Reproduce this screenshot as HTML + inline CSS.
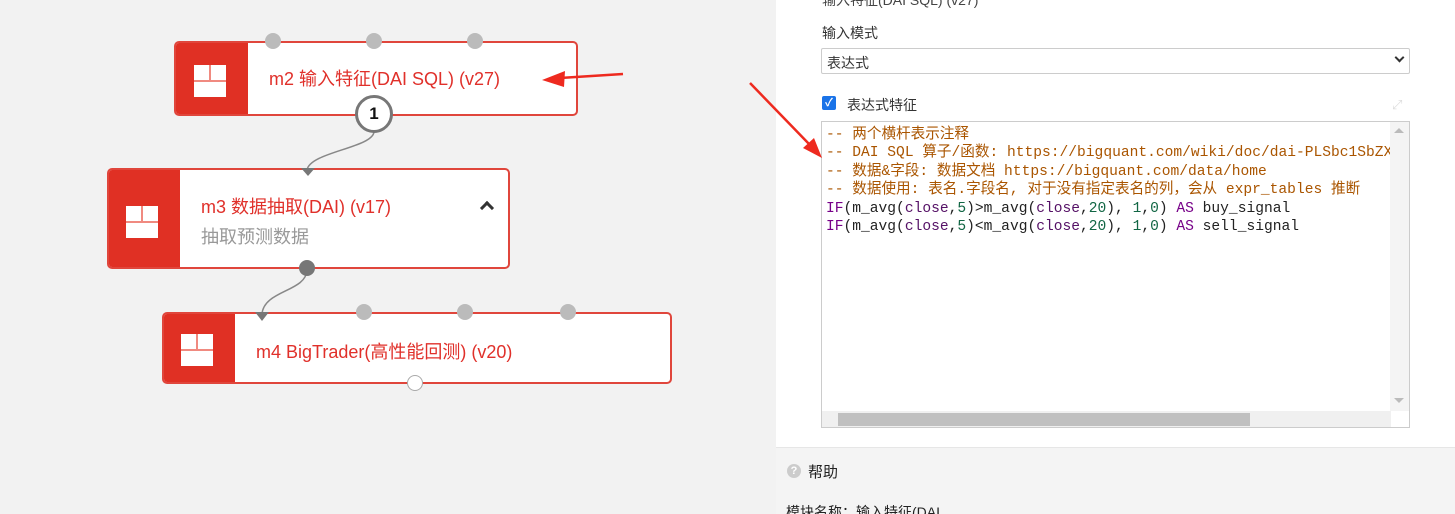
<!DOCTYPE html>
<html><head><meta charset="utf-8"><style>
*{margin:0;padding:0;box-sizing:border-box}
html,body{width:1455px;height:514px;overflow:hidden}
body{background:#f2f2f2;font-family:"Liberation Sans","Noto Sans CJK SC",sans-serif;position:relative}
.node{position:absolute;background:#fff;border:2px solid #e0463c;border-radius:5px;overflow:visible}
.node .side{position:absolute;left:0;top:0;bottom:0;background:#e03024;border-radius:3px 0 0 3px}
.icon{position:absolute;width:32px;height:32px;background:#fff}
.icon:before{content:"";position:absolute;left:0;right:0;top:15px;height:2px;background:#f08a80}
.icon:after{content:"";position:absolute;left:15px;width:2px;top:0;height:15px;background:#f08a80}
.title{position:absolute;color:#e0302a;font-size:18px;white-space:nowrap}
.port{position:absolute;width:16px;height:16px;border-radius:50%;background:#bbb}
.panel{position:absolute;left:776px;top:0;width:679px;height:447px;background:#fff}
.help{position:absolute;left:776px;top:447px;width:679px;height:67px;background:#f4f4f4;border-top:1px solid #e6e6e6}
.code{position:absolute;left:821px;top:121px;width:589px;height:307px;border:1px solid #ccc;background:#fff;overflow:hidden}
.code pre{font-family:"Liberation Mono","Noto Sans CJK SC",monospace;font-size:14.6px;line-height:18.4px;padding:4px 0 0 4px;white-space:pre;color:#222}
.c{color:#aa5500}.k{color:#770088}.n{color:#116644}.v{color:#551166}
</style></head><body>

<svg width="776" height="514" style="position:absolute;left:0;top:0">
<path d="M374 132 C372 148 310 152 307 170" stroke="#888" stroke-width="1.5" fill="none"/>
<path d="M307 270 C306 292 264 290 262 314" stroke="#888" stroke-width="1.5" fill="none"/>
</svg>

<div class="node" style="left:174px;top:41px;width:404px;height:75px">
 <div class="side" style="width:72px"></div>
 <div class="icon" style="left:18px;top:22px"></div>
 <div class="title" style="left:93px;top:22px">m2 输入特征(DAI SQL) (v27)</div>
</div>
<div class="port" style="left:265px;top:33px"></div>
<div class="port" style="left:366px;top:33px"></div>
<div class="port" style="left:467px;top:33px"></div>
<div style="position:absolute;left:355px;top:95px;width:38px;height:38px;border-radius:50%;background:#fff;border:3px solid #777;text-align:center;line-height:32px;font-weight:bold;font-size:17px;color:#111">1</div>

<div class="node" style="left:107px;top:168px;width:403px;height:101px">
 <div class="side" style="width:71px"></div>
 <div class="icon" style="left:17px;top:36px"></div>
 <div class="title" style="left:92px;top:23px">m3 数据抽取(DAI) (v17)</div>
 <div style="position:absolute;left:92px;top:53px;font-size:18px;color:#999">抽取预测数据</div>
 <div style="position:absolute;left:373px;top:33px;width:10px;height:10px;border-left:3px solid #333;border-top:3px solid #333;transform:rotate(45deg)"></div>
</div>
<div style="position:absolute;left:301px;top:168px;width:0;height:0;border-left:7px solid transparent;border-right:7px solid transparent;border-top:8px solid #777"></div>
<div class="port" style="left:299px;top:260px;background:#777"></div>

<div class="node" style="left:162px;top:312px;width:510px;height:72px">
 <div class="side" style="width:71px"></div>
 <div class="icon" style="left:17px;top:20px"></div>
 <div class="title" style="left:92px;top:24px">m4 BigTrader(高性能回测) (v20)</div>
</div>
<div style="position:absolute;left:255px;top:312px;width:0;height:0;border-left:7px solid transparent;border-right:7px solid transparent;border-top:9px solid #777"></div>
<div class="port" style="left:356px;top:304px"></div>
<div class="port" style="left:457px;top:304px"></div>
<div class="port" style="left:560px;top:304px"></div>
<div class="port" style="left:407px;top:375px;background:#fff;border:1.5px solid #aaa"></div>

<div class="panel">
 <div style="position:absolute;left:46px;top:-10px;font-size:14px;color:#444">输入特征(DAI SQL) (v27)</div>
 <div style="position:absolute;left:46px;top:23px;font-size:14px;color:#333">输入模式</div>
 <div style="position:absolute;left:45px;top:48px;width:589px;height:26px;border:1px solid #ccc;border-radius:2px;font-size:14px;color:#333;padding:4px 5px">表达式
  <span style="position:absolute;right:6px;top:5px;width:7px;height:7px;border-right:2px solid #333;border-bottom:2px solid #333;transform:rotate(45deg)"></span></div>
 <div style="position:absolute;left:46px;top:96px;width:14px;height:14px;border-radius:2px;background:#1a73e8;color:#fff;font-size:11px;line-height:14px;text-align:center;font-weight:bold">✓</div>
 <div style="position:absolute;left:71px;top:95px;font-size:14px;color:#333">表达式特征</div>
 <div style="position:absolute;left:616px;top:97px;color:#ddd;font-size:13px">⤢</div>
</div>

<div class="code"><pre><span class="c">-- 两个横杆表示注释
-- DAI SQL 算子/函数: https://bigquant.com/wiki/doc/dai-PLSbc1SbZX#h
-- 数据&amp;字段: 数据文档 https://bigquant.com/data/home
-- 数据使用: 表名.字段名, 对于没有指定表名的列，会从 expr_tables 推断</span>
<span class="k">IF</span>(m_avg(<span class="v">close</span>,<span class="n">5</span>)&gt;m_avg(<span class="v">close</span>,<span class="n">20</span>), <span class="n">1</span>,<span class="n">0</span>) <span class="k">AS</span> buy_signal
<span class="k">IF</span>(m_avg(<span class="v">close</span>,<span class="n">5</span>)&lt;m_avg(<span class="v">close</span>,<span class="n">20</span>), <span class="n">1</span>,<span class="n">0</span>) <span class="k">AS</span> sell_signal</pre>
 <div style="position:absolute;right:0;top:0;width:19px;height:289px;background:#f4f4f4"></div>
 <div style="position:absolute;right:5px;top:6px;width:0;height:0;border-left:5px solid transparent;border-right:5px solid transparent;border-bottom:5px solid #bbb"></div>
 <div style="position:absolute;right:5px;top:276px;width:0;height:0;border-left:5px solid transparent;border-right:5px solid transparent;border-top:5px solid #bbb"></div>
 <div style="position:absolute;left:0;top:289px;width:569px;height:16px;background:#f0f0f0"></div>
 <div style="position:absolute;left:16px;top:291px;width:412px;height:13px;background:#c0c0c0"></div>
</div>

<div class="help">
 <div style="position:absolute;left:11px;top:16px;width:14px;height:14px;border-radius:50%;background:#ccc;color:#fff;font-size:11px;text-align:center;line-height:14px;font-weight:bold">?</div>
 <div style="position:absolute;left:32px;top:13px;font-size:15px;color:#222">帮助</div>
 <div style="position:absolute;left:10px;top:54px;font-size:14px;color:#222">模块名称：输入特征(DAI</div>
</div>

<svg width="1455" height="514" style="position:absolute;left:0;top:0">
<path d="M623 74 L560 78" stroke="#ee2a1f" stroke-width="2.5"/>
<polygon points="542,80 565,71 564,87" fill="#ee2a1f"/>
<path d="M750 83 L810 145" stroke="#ee2a1f" stroke-width="2.5"/>
<polygon points="822,158 803,148 814,138" fill="#ee2a1f"/>
</svg>
</body></html>
